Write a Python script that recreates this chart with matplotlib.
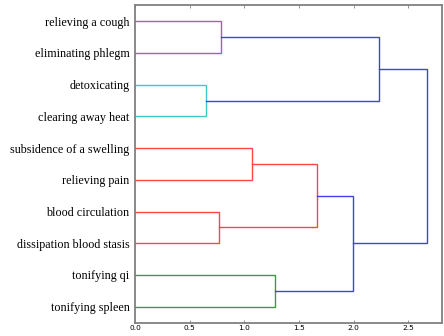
import matplotlib
matplotlib.use("Agg")
import matplotlib.pyplot as plt

# Leaf labels, top to bottom
labels = ["relieving a cough", "eliminating phlegm", "detoxicating", "clearing away heat",
          "subsidence of a swelling", "relieving pain", "blood circulation",
          "dissipation blood stasis", "tonifying qi", "tonifying spleen"]

# Merges: (left child, right child, height); children are leaf indices (0..9)
# or earlier merge ids as "m<k>"
merge_left = [0, 2, 4, 6, "m2", 8, "m4", "m0", "m7"]
merge_right = [1, 3, 5, 7, "m3", 9, "m5", "m1", "m6"]
merge_height = [0.79, 0.652, 1.067, 0.771, 1.662, 1.284, 1.997, 2.232, 2.674]
merge_color = ["#bf4fc8", "#3ec8c8", "#ff4545", "#ff4545", "#ff4545",
               "#3f9a3f", "#4040ee", "#4040ee", "#4040ee"]

tick_vals = [0.0, 0.5, 1.0, 1.5, 2.0, 2.5]

fig = plt.figure(figsize=(4.44, 3.36), dpi=100)
ax = fig.add_axes([0.304, 0.040, 0.691, 0.944])

leaf_y = [5 + 10 * i for i in range(len(labels))]

def node_pos(n, pos):
    if isinstance(n, str):
        return pos[int(n[1:])]
    return (0.0, leaf_y[n])

pos = []
for l, r, h, c in zip(merge_left, merge_right, merge_height, merge_color):
    xl, yl = node_pos(l, pos)
    xr, yr = node_pos(r, pos)
    ax.plot([xl, h, h, xr], [yl, yl, yr, yr], color=c, lw=1.0, solid_joinstyle="miter")
    pos.append((h, (yl + yr) / 2))

ax.set_ylim(100, 0)
ax.set_xlim(0, 2.806)
ax.set_yticks(leaf_y)
ax.set_yticklabels(labels, family="Liberation Serif", fontsize=8.7)
ax.set_xticks(tick_vals)
ax.set_xticklabels([f"{v:.1f}" for v in tick_vals], fontsize=5.3)
ax.tick_params(axis="y", length=0, pad=4)
ax.tick_params(axis="x", direction="in", length=2, width=0.6, color="#808080",
               top=True, pad=2)
for s in ax.spines.values():
    s.set_color("#808080")
    s.set_linewidth(1.3)

fig.savefig("out.png", dpi=100)
